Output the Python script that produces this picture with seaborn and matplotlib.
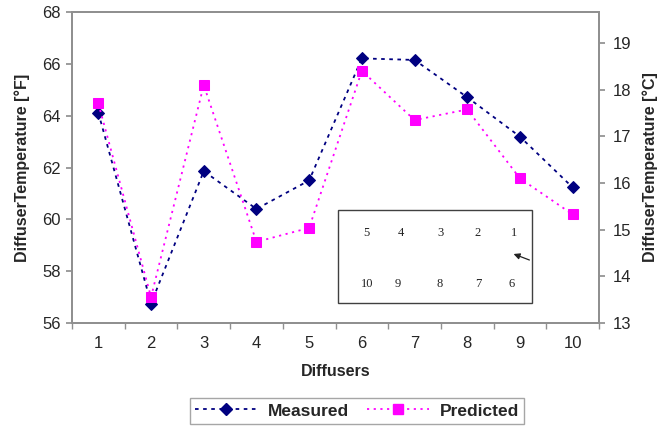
import matplotlib
matplotlib.use("Agg")
import matplotlib.pyplot as plt
import seaborn as sns
import pandas as pd
from matplotlib.lines import Line2D

diffusers = [1, 2, 3, 4, 5, 6, 7, 8, 9, 10]
measured = [64.11, 56.75, 61.86, 60.40, 61.50, 66.21, 66.15, 64.71, 63.19, 61.23]
predicted = [64.47, 57.00, 65.18, 59.13, 59.67, 65.73, 63.83, 64.24, 61.58, 60.19]
left_ticks = [56, 58, 60, 62, 64, 66, 68]
right_ticks = [13, 14, 15, 16, 17, 18, 19]
inset_top = ["5", "4", "3", "2", "1"]
inset_bottom = ["10", "9", "8", "7", "6"]

sns.set_theme(style="white")
plt.rcParams['font.family'] = ['Liberation Sans', 'DejaVu Sans']

fig = plt.figure(figsize=(6.66, 4.29), dpi=100)
ax = fig.add_axes([72/666, 1-323/429, (599-72)/666, (323-12)/429])

df = pd.DataFrame({"Diffusers": diffusers, "Measured": measured, "Predicted": predicted})
navy = "#000080"
magenta = "#FF00FF"
sns.lineplot(data=df, x="Diffusers", y="Measured", ax=ax, color=navy,
             linestyle=(0, (2, 2.5)), linewidth=1.3, marker="D", markersize=6,
             markeredgecolor=navy, markerfacecolor=navy)
sns.lineplot(data=df, x="Diffusers", y="Predicted", ax=ax, color=magenta,
             linestyle=(0, (1.2, 2.5)), linewidth=1.3, marker="s", markersize=7.5,
             markeredgecolor=magenta, markerfacecolor=magenta)

ax.set_xlim(0.5, 10.5)
ax.set_ylim(56, 68)
ax.set_yticks(left_ticks)
ax.set_xticks(diffusers)
ax.set_xticks([i + 0.5 for i in range(0, 11)], minor=True)
ax.tick_params(axis='x', which='major', length=0, pad=9, labelsize=12)
ax.tick_params(axis='x', which='minor', length=4, color='#909090', direction='out', bottom=True)
ax.tick_params(axis='y', length=4, color='#909090', direction='out', left=True, labelsize=12, pad=4)
ax.set_xlabel("Diffusers", fontsize=11.5, fontweight='bold', labelpad=10)
ax.set_ylabel("DiffuserTemperature [°F]", fontsize=11.5, fontweight='bold', labelpad=9)
for s in ax.spines.values():
    s.set_color('#909090')
    s.set_linewidth(1.3)

ax2 = ax.twinx()
ax2.set_ylim(13, 19.67)
ax2.set_yticks(right_ticks)
ax2.tick_params(axis='y', length=4, color='#909090', direction='out', right=True, labelsize=12, pad=6)
ax2.set_ylabel("DiffuserTemperature [°C]", fontsize=11.5, fontweight='bold', labelpad=8)
for s in ax2.spines.values():
    s.set_color('#909090')
    s.set_linewidth(1.3)
ax2.grid(False)
ax.grid(False)

# inset diagram
W, H = 666, 429
rect = plt.Rectangle((338/W, 1-303/H), (532-338)/W, (303-210)/H, transform=fig.transFigure,
                     facecolor='white', edgecolor='#404040', linewidth=1.0, zorder=5)
fig.add_artist(rect)
top_x = [366, 401, 440, 478, 514]
bot_x = [367, 398, 440, 478, 512]
for lbl, xp in zip(inset_top, top_x):
    fig.text(xp/W, 1-233/H, lbl, ha='center', va='center', fontsize=9,
             family=['Liberation Serif'], color='#222222', zorder=6)
for lbl, xp in zip(inset_bottom, bot_x):
    fig.text(xp/W, 1-284/H, lbl, ha='center', va='center', fontsize=9,
             family=['Liberation Serif'], color='#222222', zorder=6)
fig.add_artist(matplotlib.patches.FancyArrowPatch((532/W, 1-261/H), (511/W, 1-253/H),
               transform=fig.transFigure, arrowstyle='-|>', mutation_scale=9,
               color='#222222', linewidth=0.9, zorder=6))

handles = [Line2D([], [], color=navy, linestyle=(0, (2, 2.5)), linewidth=1.3, marker='D',
                  markersize=6, markerfacecolor=navy, markeredgecolor=navy),
           Line2D([], [], color=magenta, linestyle=(0, (1.2, 2.5)), linewidth=1.3, marker='s',
                  markersize=7.5, markerfacecolor=magenta, markeredgecolor=magenta)]
leg = fig.legend(handles, ["Measured", "Predicted"], loc='center', ncol=2,
                 bbox_to_anchor=(357/W, 1-411/H), frameon=True, fancybox=False,
                 prop={'weight': 'bold', 'size': 12.5}, handlelength=3.6, columnspacing=1.0,
                 borderpad=0.3, handletextpad=0.6)
leg.get_frame().set_edgecolor('#909090')
leg.get_frame().set_linewidth(1.0)

fig.savefig("out.png", dpi=100)
